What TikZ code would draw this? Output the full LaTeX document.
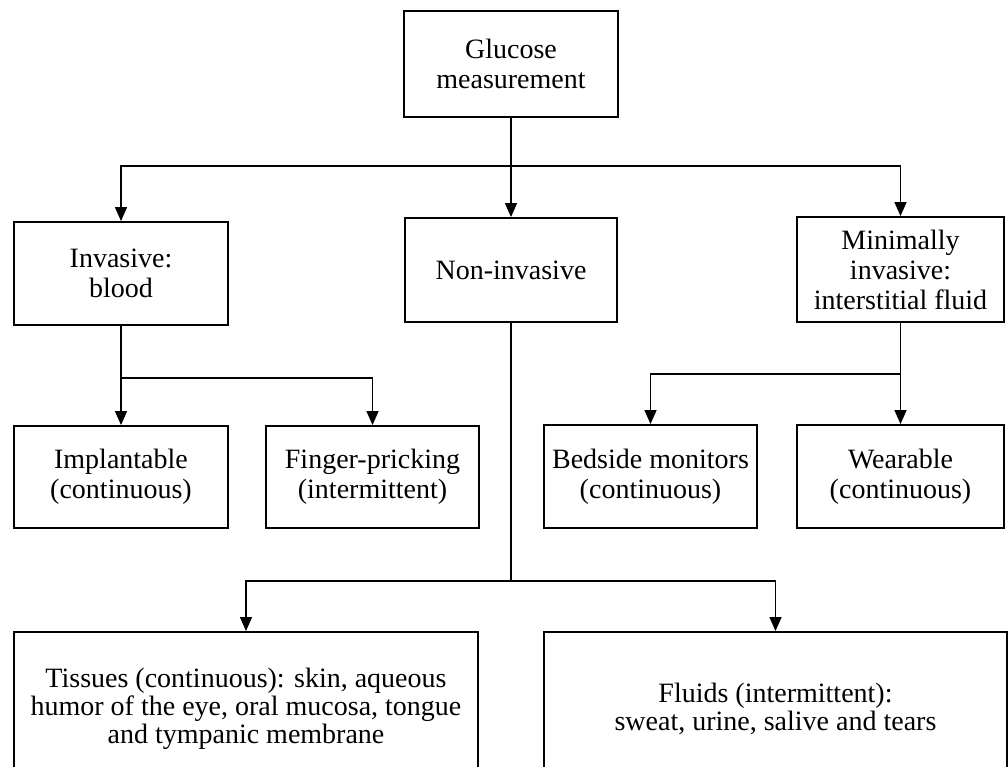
\documentclass[tikz,border=0pt]{standalone}
\usepackage{fontspec}
\setmainfont{Liberation Serif}
\usetikzlibrary{arrows.meta}
\begin{document}
\begin{tikzpicture}[x=1pt,y=-1pt,
  box/.style={draw=black, line width=1.9pt, align=center, inner sep=0pt,
    font=\fontsize{28}{30}\selectfont},
  widebox/.style={box, font=\fontsize{28}{28}\selectfont},
  plain/.style={line width=1.4pt},
  link/.style={plain, -{Triangle[width=12pt,length=14pt]}}]
\useasboundingbox[fill=white] (0,0) rectangle (1008,766);

% top level
\node[box, minimum width=214pt, minimum height=106pt] (glu) at (511,64) {Glucose\\measurement};

% second level
\node[box, minimum width=214pt, minimum height=103pt] (inv) at (121,273.5) {Invasive:\\blood};
\node[box, minimum width=212pt, minimum height=104pt] (non) at (511,270) {Non-invasive};
\node[box, minimum width=207pt, minimum height=105pt] (min) at (900.5,269.5) {Minimally\\invasive:\\interstitial fluid};

% third level
\node[box, minimum width=214pt, minimum height=102pt] (imp) at (121,477) {Implantable\\(continuous)};
\node[box, minimum width=213pt, minimum height=102pt] (fin) at (372.5,477) {Finger-pricking\\(intermittent)};
\node[box, minimum width=213pt, minimum height=103pt] (bed) at (650.5,476.5) {Bedside monitors\\(continuous)};
\node[box, minimum width=207pt, minimum height=103pt] (wea) at (900.5,476.5) {Wearable\\(continuous)};

% non-invasive branches
\node[widebox, minimum width=464pt, minimum height=154pt] (tis) at (246,709)
  {Tissues (continuous): skin, aqueous\\humor of the eye, oral mucosa, tongue\\and tympanic membrane};
\node[widebox, minimum width=463pt, minimum height=154pt] (flu) at (775.5,709)
  {Fluids (intermittent):\\sweat, urine, salive and tears};

% junction points
\coordinate (b1) at (511,166);
\coordinate (b2) at (121,378);
\coordinate (b3) at (900.5,374);
\coordinate (b4) at (511,581);

% connectors
\draw[link] (glu.south) -- (non.north);
\draw[link] (b1) -| (inv.north);
\draw[link] (b1) -| (min.north);

\draw[link] (inv.south) -- (imp.north);
\draw[link] (b2) -| (fin.north);

\draw[link] (min.south) -- (wea.north);
\draw[link] (b3) -| (bed.north);

\draw[plain] (non.south) -- (b4);
\draw[link] (b4) -| (tis.north);
\draw[link] (b4) -| (flu.north);
\end{tikzpicture}
\end{document}
